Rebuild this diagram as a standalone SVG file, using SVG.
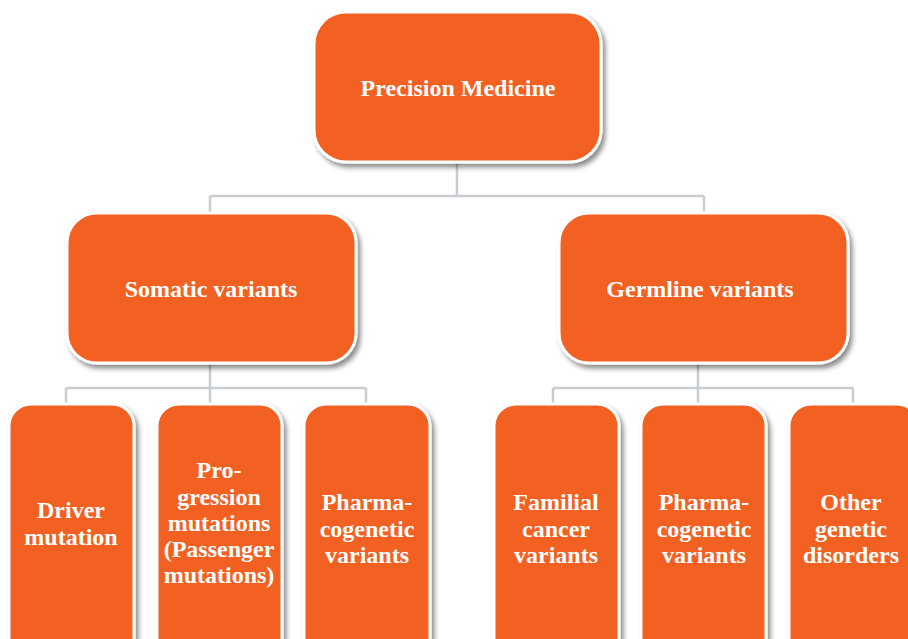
<svg xmlns="http://www.w3.org/2000/svg" width="908" height="639" viewBox="0 0 908 639">
<defs>
<filter id="sh" x="-20%" y="-20%" width="140%" height="140%">
<feDropShadow dx="3" dy="4" stdDeviation="2.5" flood-color="#000" flood-opacity="0.45"/>
</filter>
<style>
.box{fill:#F26122;stroke:#fff;stroke-width:3;filter:url(#sh)}
.t{fill:#fff;font-family:"Liberation Serif","Times New Roman",serif;font-weight:bold;font-size:24px;text-anchor:middle}
.h{font-size:24px}
.c{fill:none;stroke:#C9CDD1;stroke-width:2.5}
</style>
</defs>
<rect width="908" height="639" fill="#fff"/>
<g id="connectors">
<path class="c" d="M457,162V196M210,196H704M210,196V214M704,196V214"/>
<path class="c" d="M210,363V405M66,388H366M66,388V405M366,388V405"/>
<path class="c" d="M698,363V405M553,388H853M553,388V405M853,388V405"/>
</g>
<g id="precision">
<rect class="box" x="314" y="12" width="287" height="150" rx="32"/>
<text class="t h" x="458" y="96">Precision Medicine</text>
</g>
<g id="somatic">
<rect class="box" x="67" y="213" width="289" height="150" rx="30"/>
<text class="t h" x="211" y="297">Somatic variants</text>
</g>
<g id="germline">
<rect class="box" x="559" y="213" width="289" height="150" rx="30"/>
<text class="t h" x="700" y="297">Germline variants</text>
</g>
<g id="driver">
<rect class="box" x="9" y="404" width="125" height="260" rx="22"/>
<text class="t" x="71" y="518">Driver</text>
<text class="t" x="71" y="545">mutation</text>
</g>
<g id="progression">
<rect class="box" x="157" y="404" width="125" height="260" rx="22"/>
<text class="t" x="219" y="478">Pro-</text>
<text class="t" x="219" y="505">gression</text>
<text class="t" x="219" y="531">mutations</text>
<text class="t" x="219" y="557">(Passenger</text>
<text class="t" x="219" y="583">mutations)</text>
</g>
<g id="pharma-somatic">
<rect class="box" x="304" y="404" width="126" height="260" rx="22"/>
<text class="t" x="367" y="510">Pharma-</text>
<text class="t" x="367" y="537">cogenetic</text>
<text class="t" x="367" y="563">variants</text>
</g>
<g id="familial">
<rect class="box" x="494" y="404" width="125" height="260" rx="22"/>
<text class="t" x="556" y="510">Familial</text>
<text class="t" x="556" y="537">cancer</text>
<text class="t" x="556" y="563">variants</text>
</g>
<g id="pharma-germline">
<rect class="box" x="641" y="404" width="125" height="260" rx="22"/>
<text class="t" x="704" y="510">Pharma-</text>
<text class="t" x="704" y="537">cogenetic</text>
<text class="t" x="704" y="563">variants</text>
</g>
<g id="other">
<rect class="box" x="789" y="404" width="130" height="260" rx="22"/>
<text class="t" x="851" y="510">Other</text>
<text class="t" x="851" y="537">genetic</text>
<text class="t" x="851" y="563">disorders</text>
</g>
</svg>
